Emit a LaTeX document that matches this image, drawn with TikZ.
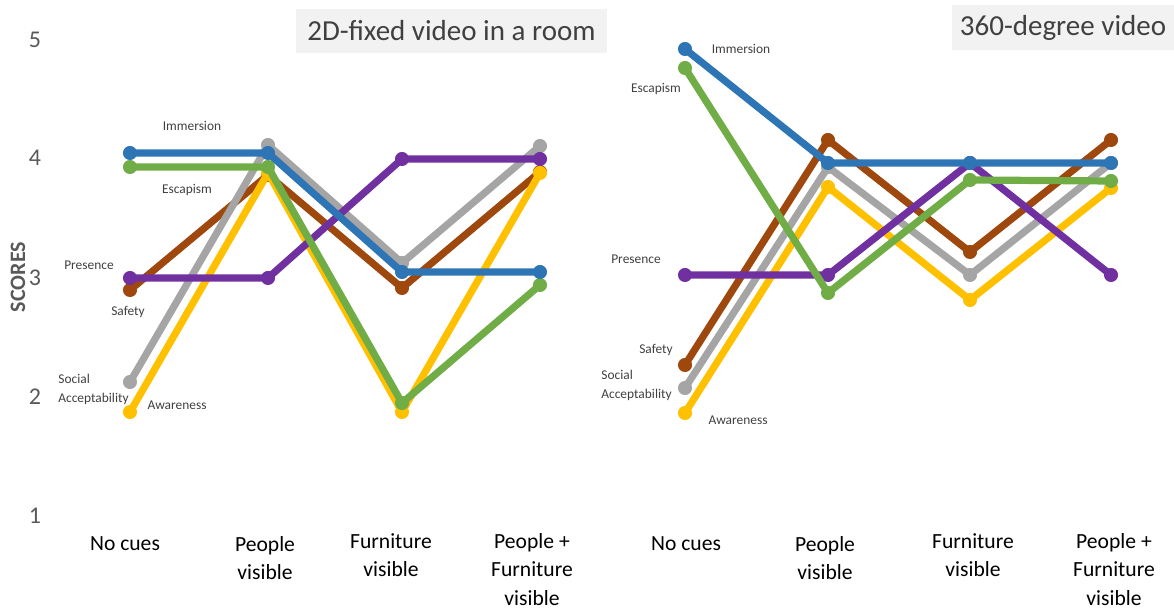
\documentclass[tikz,border=0pt]{standalone}
\usepackage{fontspec}
\setmainfont{Carlito}
\usetikzlibrary{positioning}

\definecolor{immblue}{HTML}{2E75B6}
\definecolor{escgreen}{HTML}{70AD47}
\definecolor{prespurple}{HTML}{7030A0}
\definecolor{safebrown}{HTML}{9E480E}
\definecolor{socgray}{HTML}{A5A5A5}
\definecolor{awayellow}{HTML}{FFC000}
\definecolor{ttlfill}{HTML}{F2F2F2}
\definecolor{ttltext}{HTML}{404040}
\definecolor{axtext}{HTML}{595959}

\tikzset{
  series/.style={line width=3.6pt, line join=round, line cap=round},
  marks/.style={mark=*, mark size=3.3pt, mark options={line width=0.4pt}},
  serieslabel/.style={text=ttltext, inner sep=0pt, font=\fontsize{6.7}{9.5}\selectfont},
  catlabel/.style={align=center, inner sep=0pt, font=\fontsize{10.8}{14.2}\selectfont},
  ticklabel/.style={text=axtext, inner sep=0pt, font=\fontsize{12}{14}\selectfont},
  titlebox/.style={fill=ttlfill, text=ttltext, inner sep=0pt, font=\fontsize{14.5}{17}\selectfont},
}

\begin{document}
\begin{tikzpicture}[x=0.5pt, y=-0.5pt]
\useasboundingbox (0,0) rectangle (1174,608);

% y axis
\node[ticklabel] (tick5) at (35,40) {5};
\node[ticklabel] (tick4) at (35,158) {4};
\node[ticklabel] (tick3) at (35,278) {3};
\node[ticklabel] (tick2) at (35,397) {2};
\node[ticklabel] (tick1) at (35,516) {1};
\node[text=axtext, rotate=90, inner sep=0pt, font=\fontsize{11}{13}\selectfont\bfseries] (scoreslab) at (18,277) {SCORES};

% titles
\node[titlebox, minimum width=155.5pt, minimum height=22pt] (ttlA) at (451.5,31) {2D-fixed video in a room};
\node[titlebox, minimum width=111pt, minimum height=22.5pt] (ttlB) at (1063,27.5) {360-degree video};

% left panel: 2D-fixed video
\draw[series, safebrown] plot[marks] coordinates {(130,290) (268,175) (402,288) (540,172)};
\draw[series, socgray] plot[marks] coordinates {(130,382) (268,145) (402,263) (540,146)};
\draw[series, awayellow] plot[marks] coordinates {(130,412) (268,173) (402,412) (540,173)};
\draw[series, prespurple] plot[marks] coordinates {(130,278) (268,278) (402,159) (540,159)};
\draw[series, escgreen] plot[marks] coordinates {(130,167) (268,167) (402,403) (540,285)};
\draw[series, immblue] plot[marks] coordinates {(130,153) (268,153) (402,272) (540,272)};

\node[serieslabel] (immA) at (192,126) {Immersion};
\node[serieslabel] (escA) at (187,190) {Escapism};
\node[serieslabel] (presA) at (89,265) {Presence};
\node[serieslabel] (safeA) at (128,312) {Safety};
\node[serieslabel, align=left, anchor=west] (socA) at (58,389) {Social\\Acceptability};
\node[serieslabel] (awaA) at (177,405) {Awareness};

% right panel: 360-degree video
\draw[series, safebrown] plot[marks] coordinates {(685,365) (828,140) (970,252) (1111,140)};
\draw[series, socgray] plot[marks] coordinates {(685,388) (828,167) (970,275) (1111,163)};
\draw[series, awayellow] plot[marks] coordinates {(685,413) (828,187) (970,300) (1111,188)};
\draw[series, prespurple] plot[marks] coordinates {(685,275) (828,275) (970,163) (1111,275)};
\draw[series, escgreen] plot[marks] coordinates {(685,68) (828,293) (970,180) (1111,181)};
\draw[series, immblue] plot[marks] coordinates {(685,49) (828,163) (970,163) (1111,163)};

\node[serieslabel] (immB) at (741,49) {Immersion};
\node[serieslabel] (escB) at (656,89) {Escapism};
\node[serieslabel] (presB) at (636,259) {Presence};
\node[serieslabel] (safeB) at (656,350) {Safety};
\node[serieslabel, align=left, anchor=west] (socB) at (601,385) {Social\\Acceptability};
\node[serieslabel] (awaB) at (738,420) {Awareness};

% categories
\node[catlabel, anchor=north] (nocueA) at (125,536) {No cues};
\node[catlabel, anchor=north] (peopleA) at (265,536) {People\\visible};
\node[catlabel, anchor=north] (furnA) at (391,533) {Furniture\\visible};
\node[catlabel, anchor=north] (bothA) at (532,533) {People +\\Furniture\\visible};

\node[catlabel, anchor=north] (nocueB) at (686,536) {No cues};
\node[catlabel, anchor=north] (peopleB) at (825,536) {People\\visible};
\node[catlabel, anchor=north] (furnB) at (973,533) {Furniture\\visible};
\node[catlabel, anchor=north] (bothB) at (1114,533) {People +\\Furniture\\visible};

\end{tikzpicture}
\end{document}
